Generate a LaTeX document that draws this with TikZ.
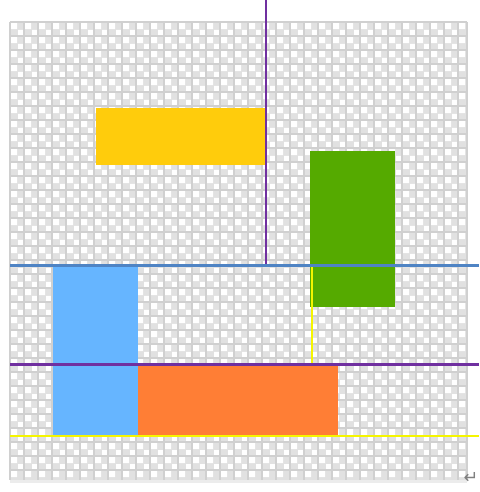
\documentclass[tikz,border=0pt]{standalone}
\usepackage{fontspec}
\newfontfamily\symfont{DejaVu Sans}
\usetikzlibrary{calc}
\definecolor{CHKDARK}{HTML}{D0D0D0}
\definecolor{CHKMID}{HTML}{E1E1E1}
\definecolor{GOLD}{HTML}{FFCC0C}
\definecolor{LEAF}{HTML}{55AA00}
\definecolor{SKY}{HTML}{66B5FF}
\definecolor{ORANGE}{HTML}{FF7E35}
\definecolor{PURPLE}{HTML}{7030A0}
\definecolor{STEEL}{HTML}{4F84C4}
\definecolor{YELLOW}{HTML}{F5F500}
\begin{document}
\begin{tikzpicture}[x=0.01cm,y=-0.01cm]
\tikzset{block/.style={draw=none},guide/.style={line width=0.025cm},
 cell/.style={white},gridline/.style={CHKDARK,line width=0.016cm}}
\useasboundingbox (0,0) rectangle (479,492);
% checker background
\fill[CHKMID] (10,22) rectangle (467,480);
\fill[cell] foreach \a in {0,...,64}{foreach \b in {0,...,64}{
 \ifodd\numexpr\a+\b\relax\else (10+7*\a+1,22+7*\b+1) rectangle +(6.2,6.2)\fi}};
\draw[gridline] foreach \a in {0,...,32}{(10+14*\a,22) -- (10+14*\a,480)};
\draw[gridline] foreach \b in {0,...,32}{(10,22+14*\b) -- (467,22+14*\b)};
\draw[gridline] (467,22) -- (467,480);
\draw[gray!15,line width=0.03cm] (10,481) -- (467,481);
% blocks
\fill[block,GOLD] (96,108) rectangle (265,165);
\fill[block,LEAF] (310,151) rectangle (395,307);
\fill[block,SKY] (53,266) rectangle (138,436);
\fill[block,ORANGE] (138,364) rectangle (338,436);
% guide lines
\coordinate (pv0) at (266,0);
\coordinate (pv1) at (266,265);
\coordinate (bl0) at (10,265.5);
\coordinate (bl1) at (479,265.5);
\coordinate (yv0) at (312,265);
\coordinate (yv1) at (312,364);
\coordinate (ph0) at (10,364.5);
\coordinate (ph1) at (479,364.5);
\coordinate (yh0) at (10,436);
\coordinate (yh1) at (479,436);
\draw[guide,PURPLE] (pv0) -- (pv1);
\draw[guide,YELLOW] (yv0) -- (yv1);
\draw[guide,STEEL] (bl0) -- (bl1);
\draw[guide,PURPLE] (ph0) -- (ph1);
\draw[guide,YELLOW] (yh0) -- (yh1);
\node[gray,inner sep=0,font=\symfont\fontsize{5}{6}\selectfont] (ret) at (471,478) {↵};
\end{tikzpicture}
\end{document}
